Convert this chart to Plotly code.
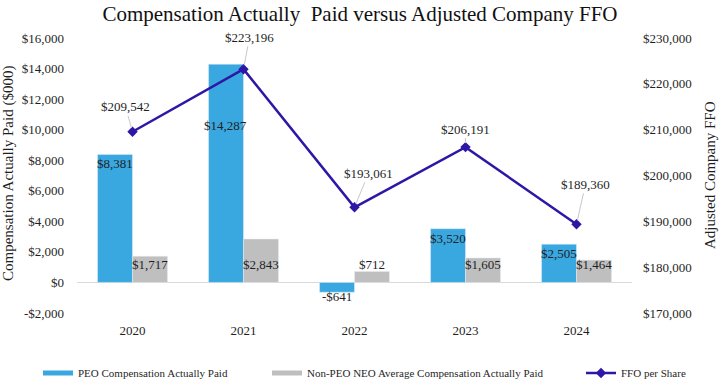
import plotly.graph_objects as go

years = ["2020", "2021", "2022", "2023", "2024"]
peo_cap = [8381, 14287, -641, 3520, 2505]
neo_cap = [1717, 2843, 712, 1605, 1464]
ffo = [209542, 223196, 193061, 206191, 189360]
left_ticks = [-2000, 0, 2000, 4000, 6000, 8000, 10000, 12000, 14000, 16000]
right_ticks = [170000, 180000, 190000, 200000, 210000, 220000, 230000]

FONT = "Liberation Serif, Times New Roman, serif"
BLUE = "#3AA8E0"
GRAY = "#BFBFBF"
LINE = "#2E17A6"
TXT = "#1f1f1f"

L, R, T, B = 77, 88, 38, 66
PW, PH = 720 - L - R, 379 - T - B


def money(v):
    return ("-$" if v < 0 else "$") + f"{abs(v):,}"


xs = list(range(len(years)))

fig = go.Figure()
fig.add_trace(go.Bar(x=xs, y=peo_cap, name="PEO Compensation Actually Paid",
                     marker_color=BLUE, showlegend=False))
fig.add_trace(go.Bar(x=xs, y=neo_cap, name="Non-PEO NEO Average Compensation Actually Paid",
                     marker_color=GRAY, showlegend=False))
fig.add_trace(go.Scatter(x=xs, y=ffo, name="FFO per Share", yaxis="y2",
                         mode="lines+markers", line=dict(color=LINE, width=2.5),
                         marker=dict(symbol="diamond", size=8, color=LINE),
                         legend="legend3"))
# legend-only swatches (thin bars like the original legend)
fig.add_trace(go.Scatter(x=[None], y=[None], mode="lines", name="PEO Compensation Actually Paid",
                         line=dict(color=BLUE, width=5), legend="legend"))
fig.add_trace(go.Scatter(x=[None], y=[None], mode="lines",
                         name="Non-PEO NEO Average Compensation Actually Paid",
                         line=dict(color=GRAY, width=5), legend="legend2"))

ann = []
peo_shift = [0, -52, 0, 0, 0]
for xi, v, s in zip(xs, peo_cap, peo_shift):
    if v >= 0:
        ann.append(dict(x=xi, y=v, xref="x", yref="y", text=money(v), showarrow=False,
                        xshift=-18, yanchor="top", yshift=s, font=dict(family=FONT, size=13, color=TXT)))
    else:
        ann.append(dict(x=xi, y=v, xref="x", yref="y", text=money(v), showarrow=False,
                        xshift=-18, yanchor="middle", yshift=-4, font=dict(family=FONT, size=13, color=TXT)))
for xi, v in zip(xs, neo_cap):
    ann.append(dict(x=xi, y=0, xref="x", yref="y", text=money(v), showarrow=False,
                    xshift=17, yanchor="bottom", yshift=8, font=dict(family=FONT, size=13, color=TXT)))
offs = [(-7, -25), (6, -32), (14, -34), (0, -18), (9, -40)]
for xi, v, (ax, ay) in zip(xs, ffo, offs):
    ann.append(dict(x=xi, y=v, xref="x", yref="y2", text=money(v), showarrow=True,
                    arrowhead=0, arrowwidth=1, arrowcolor="#c8c8c8", ax=ax, ay=ay,
                    standoff=4, font=dict(family=FONT, size=13, color=TXT)))
# axis titles
ann.append(dict(x=(8 - L) / PW, y=(379 - B - 174) / PH, xref="paper", yref="paper",
                text="Compensation Actually Paid ($000)", textangle=-90, showarrow=False,
                xanchor="center", yanchor="middle", font=dict(family=FONT, size=15, color=TXT)))
ann.append(dict(x=(710 - L) / PW, y=(379 - B - 175) / PH, xref="paper", yref="paper",
                text="Adjusted Company FFO", textangle=-90, showarrow=False,
                xanchor="center", yanchor="middle", font=dict(family=FONT, size=15, color=TXT)))

leg_y = -(373 - (379 - B)) / PH
leg_common = dict(y=leg_y, xanchor="left", yanchor="middle", orientation="h",
                  font=dict(family=FONT, size=11, color=TXT), bgcolor="rgba(0,0,0,0)")

fig.update_layout(
    width=720, height=379,
    margin=dict(l=L, r=R, t=T, b=B, autoexpand=False),
    paper_bgcolor="white", plot_bgcolor="white",
    font=dict(family=FONT, size=13, color=TXT),
    title=dict(text="Compensation Actually  Paid versus Adjusted Company FFO",
               x=0.5, xanchor="center", y=1 - 14 / 379, yanchor="middle",
               font=dict(family=FONT, size=21, color="#111111")),
    barmode="group", bargap=0.37, bargroupgap=0,
    xaxis=dict(range=[-0.5, len(years) - 0.5], tickmode="array", tickvals=xs, ticktext=years,
               showgrid=False, showline=False, zeroline=False, automargin=False,
               ticklabelstandoff=8,
               tickfont=dict(family=FONT, size=13, color=TXT)),
    yaxis=dict(range=[-2000, 16000], tickmode="array", tickvals=left_ticks,
               ticktext=[money(v) for v in left_ticks], automargin=False,
               showgrid=False, zeroline=True, zerolinecolor="#d9d9d9", zerolinewidth=1,
               ticklabelstandoff=12,
               tickfont=dict(family=FONT, size=13, color=TXT)),
    yaxis2=dict(range=[170000, 230000], tickmode="array", tickvals=right_ticks,
                ticktext=[money(v) for v in right_ticks], automargin=False,
                overlaying="y", side="right", showgrid=False, zeroline=False,
                ticklabelstandoff=10,
                tickfont=dict(family=FONT, size=13, color=TXT)),
    legend=dict(x=(38 - L) / PW, **leg_common),
    legend2=dict(x=(267 - L) / PW, **leg_common),
    legend3=dict(x=(581 - L) / PW, **leg_common),
    annotations=ann,
)

fig.write_html("out.html", config={"displayModeBar": False},
               post_script="document.body.style.margin='0';document.body.style.overflow='hidden';")
